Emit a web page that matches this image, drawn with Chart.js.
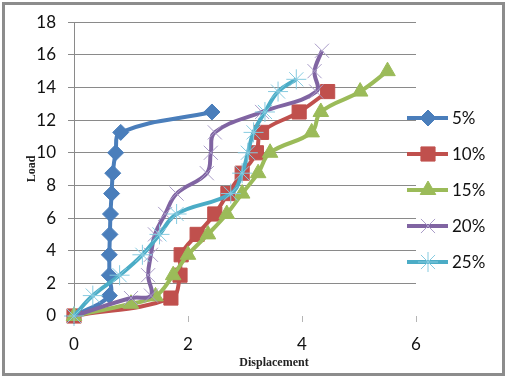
<!DOCTYPE html>
<html>
<head>
<meta charset="utf-8">
<script src="https://cdn.jsdelivr.net/npm/chart.js@4"></script>
<style>
  body { margin: 0; background: #fff; }
  canvas { display: block; }
</style>
</head>
<body>
<canvas id="loadChart" width="513" height="378"></canvas>
<script>
// Load vs displacement, one series per percentage
const seriesNames = ['5%', '10%', '15%', '20%', '25%'];

const load5 = [0, 1.25, 2.5, 3.75, 5, 6.25, 7.5, 8.75, 10, 11.25, 12.5];
const disp5 = [0, 0.62, 0.62, 0.62, 0.63, 0.64, 0.66, 0.68, 0.73, 0.82, 2.42];

const load10 = [0, 1.1, 2.5, 3.75, 5, 6.25, 7.5, 8.75, 10, 11.25, 12.5, 13.75];
const disp10 = [0, 1.7, 1.86, 1.88, 2.16, 2.47, 2.7, 2.95, 3.2, 3.29, 3.95, 4.45];

const load15 = [0, 0.75, 1.2, 2.5, 3.75, 5, 6.25, 7.5, 8.75, 10, 11.25, 12.5, 13.75, 15];
const disp15 = [0, 1.0, 1.43, 1.74, 2.0, 2.35, 2.68, 2.95, 3.23, 3.44, 4.17, 4.33, 5.02, 5.5];

const load20 = [0, 1.1, 1.25, 2.5, 3.75, 5, 6.25, 7.5, 8.75, 10, 11.25, 12.5, 13.75, 15, 16.25];
const disp20 = [0, 1.0, 1.35, 1.3, 1.35, 1.42, 1.6, 1.8, 2.33, 2.4, 2.47, 3.3, 4.25, 4.22, 4.35];

const load25 = [0, 1.25, 2.5, 3.75, 5, 6.25, 7.5, 8.75, 10, 11.25, 12.5, 13.75, 14.5];
const disp25 = [0, 0.33, 0.8, 1.2, 1.5, 1.8, 2.75, 2.95, 3.05, 3.15, 3.35, 3.58, 3.9];

const xTicks = [0, 2, 4, 6];
const yTicks = [0, 2, 4, 6, 8, 10, 12, 14, 16, 18];

const loads = [load5, load10, load15, load20, load25];
const disps = [disp5, disp10, disp15, disp20, disp25];

// excel 2007 palette
const colors = ['#4a7ebb', '#c0504d', '#9bbb59', '#8064a2', '#4bacc6'];
const markerStyles = [
    { pointStyle: 'rectRot', radius: 8, border: '#4a7ebb', bw: 1 },
    { pointStyle: 'rect', radius: 10, border: '#c0504d', bw: 1 },
    { pointStyle: 'triangle', radius: 9, border: '#9bbb59', bw: 1 },
    { pointStyle: 'crossRot', radius: 10, border: '#a99cc8', bw: 1 },
    { pointStyle: 'star', radius: 10, border: '#86cbe0', bw: 1 }
];

const datasets = seriesNames.map((name, i) => ({
    label: name,
    data: disps[i].map((x, j) => ({ x: x, y: loads[i][j] })),
    showLine: true,
    tension: 0.4,
    borderColor: colors[i],
    borderWidth: 4,
    backgroundColor: colors[i],
    pointStyle: markerStyles[i].pointStyle,
    pointRadius: markerStyles[i].radius,
    pointBorderColor: markerStyles[i].border,
    pointBorderWidth: markerStyles[i].bw,
    pointBackgroundColor: colors[i],
    clip: false,
    order: seriesNames.length - i
}));

// legend with line + marker, axis titles and outer frame
const extras = {
    id: 'extras',
    afterDraw(chart) {
        const ctx = chart.ctx;
        ctx.save();
        seriesNames.forEach((name, i) => {
            const y = 118 + i * 36;
            ctx.strokeStyle = colors[i];
            ctx.lineWidth = 4;
            ctx.beginPath();
            ctx.moveTo(407, y);
            ctx.lineTo(448, y);
            ctx.stroke();
            ctx.fillStyle = colors[i];
            ctx.strokeStyle = markerStyles[i].border;
            ctx.lineWidth = markerStyles[i].bw;
            Chart.helpers.drawPoint(ctx, {
                pointStyle: markerStyles[i].pointStyle,
                radius: markerStyles[i].radius,
                rotation: 0,
                borderWidth: markerStyles[i].bw
            }, 428, y);
            ctx.fillStyle = '#111';
            ctx.font = '17px Lato';
            ctx.textAlign = 'left';
            ctx.textBaseline = 'middle';
            ctx.fillText(name, 452, y + 1);
        });

        ctx.fillStyle = '#222';
        ctx.font = 'bold 12px "Liberation Serif"';
        ctx.textAlign = 'center';
        ctx.textBaseline = 'middle';
        ctx.fillText('Displacement', 274, 363);
        ctx.translate(32, 169);
        ctx.rotate(-Math.PI / 2);
        ctx.fillText('Load', 0, 0);
        ctx.restore();

        ctx.save();
        ctx.strokeStyle = '#8c8c8c';
        ctx.lineWidth = 3;
        ctx.strokeRect(3.5, 3.5, 500, 371);
        ctx.restore();
    }
};

new Chart(document.getElementById('loadChart'), {
    type: 'scatter',
    data: { datasets: datasets },
    options: {
        responsive: false,
        animation: false,
        layout: { padding: { top: 21, right: 97, left: 0, bottom: 0 } },
        plugins: {
            legend: { display: false },
            tooltip: { enabled: false }
        },
        scales: {
            x: {
                min: 0,
                max: 6,
                afterBuildTicks(scale) { scale.ticks = xTicks.map(v => ({ value: v })); },
                afterFit(scale) { scale.height = 62; },
                border: { display: false },
                grid: {
                    drawOnChartArea: false,
                    drawTicks: true,
                    tickLength: 6,
                    color: '#b5b5b5',
                    offset: false
                },
                ticks: {
                    padding: 12,
                    color: '#111',
                    font: { family: 'Lato', size: 17 }
                }
            },
            y: {
                min: 0,
                max: 18,
                afterBuildTicks(scale) { scale.ticks = yTicks.map(v => ({ value: v })); },
                afterFit(scale) { scale.width = 74; },
                border: { display: true, color: '#8a8a8a', width: 1 },
                grid: {
                    color: ctx => ctx.tick && ctx.tick.value === 0 ? 'rgba(0,0,0,0)' : '#8a8a8a',
                    tickLength: 6
                },
                ticks: {
                    padding: 12,
                    color: '#111',
                    font: { family: 'Lato', size: 17 }
                }
            }
        }
    },
    plugins: [extras]
});
</script>
</body>
</html>
